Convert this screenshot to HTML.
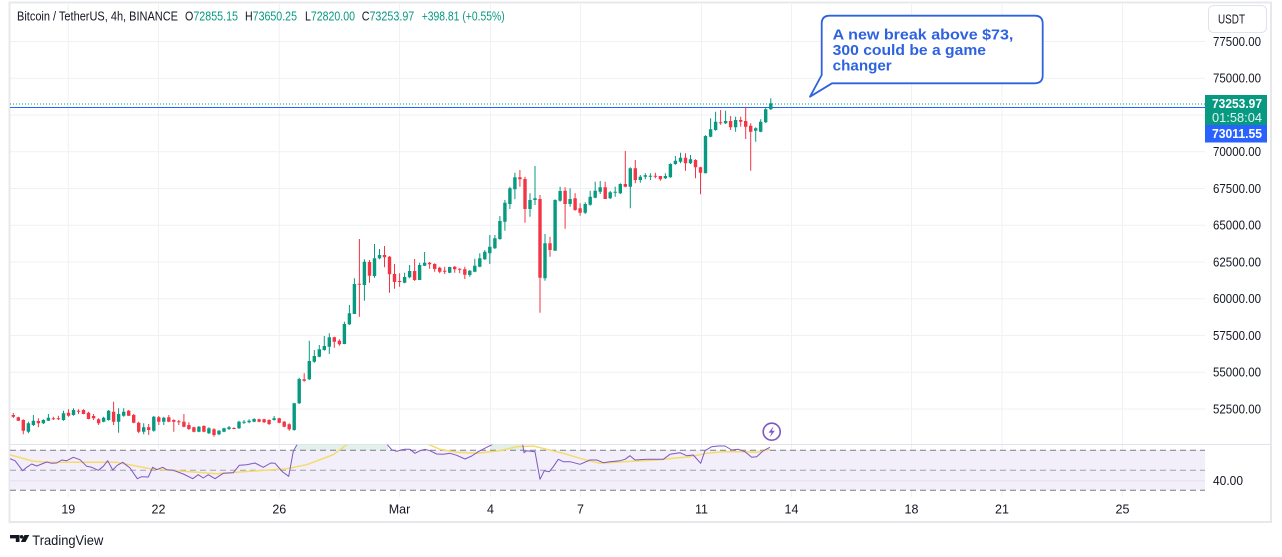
<!DOCTYPE html>
<html><head><meta charset="utf-8"><style>
html,body{margin:0;padding:0;background:#fff;}
svg{display:block;}
text{font-family:"Liberation Sans",sans-serif;}
</style></head><body>
<svg width="1282" height="557" viewBox="0 0 1282 557" xmlns="http://www.w3.org/2000/svg">
<rect x="0" y="0" width="1282" height="557" fill="#fff"/>
<defs>
<clipPath id="rsiclip"><rect x="10" y="444.8" width="1195" height="52"/></clipPath>
</defs>
<g stroke="#eff1f4" stroke-width="1">
<path d="M10 41.5H1205M10 78.3H1205M10 115H1205M10 151.8H1205M10 188.5H1205M10 225.3H1205M10 262H1205M10 298.8H1205M10 335.5H1205M10 372.3H1205M10 409H1205"/>
<path d="M68.3 4V497M158.5 4V497M279.3 4V497M399.5 4V497M490.5 4V497M580.5 4V497M701.5 4V497M791.5 4V497M911.5 4V497M1002 4V497M1122.5 4V497"/>
</g>
<rect x="9.5" y="2.5" width="1261.5" height="519.5" fill="none" stroke="#e6e8ec" stroke-width="2"/>
<text x="17" y="20.5" font-size="12.5" fill="#131722" textLength="161" lengthAdjust="spacingAndGlyphs">Bitcoin / TetherUS, 4h, BINANCE</text>
<text x="185" y="20.5" font-size="12.5" fill="#089981" textLength="53" lengthAdjust="spacingAndGlyphs"><tspan fill="#131722">O</tspan>72855.15</text>
<text x="245" y="20.5" font-size="12.5" fill="#089981" textLength="52" lengthAdjust="spacingAndGlyphs"><tspan fill="#131722">H</tspan>73650.25</text>
<text x="305" y="20.5" font-size="12.5" fill="#089981" textLength="50" lengthAdjust="spacingAndGlyphs"><tspan fill="#131722">L</tspan>72820.00</text>
<text x="361.7" y="20.5" font-size="12.5" fill="#089981" textLength="52.6" lengthAdjust="spacingAndGlyphs"><tspan fill="#131722">C</tspan>73253.97</text>
<text x="421.7" y="20.5" font-size="12.5" fill="#089981" textLength="83" lengthAdjust="spacingAndGlyphs">+398.81 (+0.55%)</text>
<rect x="1208.5" y="5.5" width="58" height="27" rx="5" fill="#fff" stroke="#e0e3eb"/>
<text x="1218" y="23.5" font-size="12.5" fill="#131722" textLength="27" lengthAdjust="spacingAndGlyphs">USDT</text>
<g font-size="12.5" fill="#131722">
<text x="1213" y="46" textLength="48" lengthAdjust="spacingAndGlyphs">77500.00</text>
<text x="1213" y="82.7" textLength="48" lengthAdjust="spacingAndGlyphs">75000.00</text>
<text x="1213" y="156.2" textLength="48" lengthAdjust="spacingAndGlyphs">70000.00</text>
<text x="1213" y="193" textLength="48" lengthAdjust="spacingAndGlyphs">67500.00</text>
<text x="1213" y="229.7" textLength="48" lengthAdjust="spacingAndGlyphs">65000.00</text>
<text x="1213" y="266.5" textLength="48" lengthAdjust="spacingAndGlyphs">62500.00</text>
<text x="1213" y="303.2" textLength="48" lengthAdjust="spacingAndGlyphs">60000.00</text>
<text x="1213" y="340" textLength="48" lengthAdjust="spacingAndGlyphs">57500.00</text>
<text x="1213" y="376.7" textLength="48" lengthAdjust="spacingAndGlyphs">55000.00</text>
<text x="1213" y="413.5" textLength="48" lengthAdjust="spacingAndGlyphs">52500.00</text>
<text x="1213" y="485.2" textLength="30" lengthAdjust="spacingAndGlyphs">40.00</text>
</g>
<g font-size="12.5" fill="#131722" text-anchor="middle">
<text x="68.3" y="513.5">19</text>
<text x="158.5" y="513.5">22</text>
<text x="279.3" y="513.5">26</text>
<text x="399.5" y="513.5">Mar</text>
<text x="490.5" y="513.5">4</text>
<text x="580.5" y="513.5">7</text>
<text x="701.5" y="513.5">11</text>
<text x="791.5" y="513.5">14</text>
<text x="911.5" y="513.5">18</text>
<text x="1002" y="513.5">21</text>
<text x="1122.5" y="513.5">25</text>
</g>
<line x1="10" y1="104" x2="1205" y2="104" stroke="#089981" stroke-width="1" stroke-dasharray="1 2"/>
<line x1="10" y1="107.5" x2="1205" y2="107.5" stroke="#2962ff" stroke-width="1"/>
<g fill="none">
<path stroke="#089981" stroke-width="1" d="M28.4 421.7V433.3M33.4 415V426M43.4 419.3V424M48.4 414V421M63.5 410.7V420.7M73.5 408.3V415.7M103.6 416.7V422.3M108.6 410V420.7M118.6 408.3V432.7M123.7 408.3V416.7M143.7 423.3V434.3M153.8 416V431.7M163.8 416.7V425M198.9 426V432.3M208.9 427.3V434M219 430V435.3M224 427.7V432.3M229 426V430M239 420.7V429M244 420V424M249.1 419.3V423.3M254.1 418.3V422.3M274.1 416V420.7M294.2 402.7V430.7M299.2 377.7V404M309.3 340.7V380M314.3 350V362.7M319.3 345V357.3M324.3 336V350.7M329.3 333.3V354M344.4 321.7V344.3M349.4 305V325M354.4 278.3V314M364.4 259.3V300.7M374.5 244V277.7M379.5 249V259.3M404.6 272.7V283.3M409.6 265V278.3M419.6 262.7V280M424.6 252V266M449.7 266.7V273.3M469.8 270V276.7M474.8 258.7V272.3M479.8 253.3V267.3M484.8 250V260M489.8 235V264M494.9 235V249M499.9 216V239.7M504.9 200V230.7M509.9 186.7V209M514.9 172.7V199.3M530 193.3V216.7M535 166V205M545 234V280.7M555.1 199.3V250.7M560.1 186.7V201.7M570.1 188.3V206.7M585.2 202.3V214M590.2 190.7V205.7M595.2 181.7V198.3M600.2 181V194M610.2 191V199M615.2 186.7V196.7M620.3 183.3V194M630.3 167.3V208.3M640.3 175V182.7M645.3 173.3V179.3M650.4 173.3V180M665.4 173.3V179M670.4 163.3V177.7M675.4 156V164.7M680.5 152.7V163.3M690.5 155V164M705.5 135.3V173.3M710.6 118.3V137.3M715.6 111.7V130.7M725.6 110.7V124M735.6 116.7V131.7M755.7 127.3V141.7M760.7 119.3V132.3M765.7 107.3V123M770.8 98.3V110"/>
<path stroke="#089981" stroke-width="3.4" d="M28.4 423.3V431.7M33.4 420.7V425M43.4 420V423.3M48.4 417.7V420.7M63.5 413.3V420M73.5 410V415M103.6 417.7V421.7M108.6 410.7V420M118.6 414V421.7M123.7 411.7V415.7M143.7 427.3V431.7M153.8 416.7V430.7M163.8 417.7V421.7M198.9 426.7V431.7M208.9 428.3V433.3M219 430.7V434.3M224 428.3V431.7M229 427.3V429M239 421.7V428.3M244 421.7V422.7M249.1 420.7V422.3M254.1 419V421.7M274.1 418.3V420M294.2 403.3V430M299.2 379V403.3M309.3 361V379.3M314.3 356V361.7M319.3 349.3V356.7M324.3 346V350M329.3 337.3V346.7M344.4 324V344M349.4 313.3V324.3M354.4 284V314M364.4 261.7V285M374.5 258.3V276M379.5 255V258.3M404.6 277V282.7M409.6 271V277.3M419.6 265V280M424.6 262.7V265.7M449.7 267V272.7M469.8 270.7V275M474.8 265.7V271.7M479.8 258.3V266.7M484.8 251.7V259.3M489.8 246.7V253.3M494.9 238.3V248.3M499.9 221V239M504.9 202.7V221.7M509.9 188.3V204M514.9 177.3V189.3M530 200V209M535 198.3V200M545 243.3V278.3M555.1 200V250.7M560.1 191V200.7M570.1 199V204M585.2 204V212.7M590.2 196.7V204.7M595.2 190.7V197.7M600.2 187.3V191.7M610.2 192.3V198.3M615.2 191.7V192.7M620.3 184V193.3M630.3 168.3V186.7M640.3 176.7V180M645.3 175.3V176.7M650.4 175.7V176.7M665.4 176V178.3M670.4 164V177.3M675.4 160.7V164M680.5 157.7V161.7M690.5 159.3V163.3M705.5 136V173.3M710.6 129.3V136.7M715.6 121.7V130M725.6 121V123.3M735.6 120V127.3M755.7 128.3V130.7M760.7 121.7V131.7M765.7 109.3V122.3M770.8 103.3V109.3"/>
<path stroke="#f23645" stroke-width="1" d="M13.3 413V418M18.3 416.7V421M23.3 419.3V434.3M38.4 418.3V427.3M53.4 416.7V420M58.4 415.7V420M68.5 409.3V416.7M78.5 409.3V414M83.5 409.3V414.3M88.5 411.7V419.3M93.6 414V420M98.6 418.3V425M113.6 401.7V425M128.7 410V416M133.7 414V423.3M138.7 421.7V433.3M148.7 424V435M158.8 416V425M168.8 415V422.3M173.8 419.3V431.7M178.8 420V425M183.9 414V427.3M188.9 422.3V430M193.9 426.7V432.3M203.9 425.3V432.3M214 428.3V436.7M234 427.3V429.3M259.1 418.7V422.3M264.1 418.7V423M269.1 419.3V425M279.2 417.7V423.3M284.2 421V427.3M289.2 423.3V430.7M304.2 373.3V381.7M334.3 336.7V347.7M339.4 339.3V345.7M359.4 239V316.7M369.5 260V282.7M384.5 246V267.3M389.5 256V292.7M394.5 264V288.7M399.6 273.3V286.7M414.6 259V281M429.6 262V268.7M434.7 263.3V271.7M439.7 266.7V273.3M444.7 266.7V274M454.7 266V272.7M459.7 268.3V273.3M464.8 266.7V279M519.9 170V186.7M525 176.7V222.7M540 195V312.7M550 236.7V256.7M565.1 187.3V228.7M575.1 193.3V210.7M580.1 203.3V215.7M605.2 181.7V199M625.3 151V187.3M635.3 160V183.3M655.4 172.7V178.3M660.4 176V180.7M685.5 153.3V170.7M695.5 159.3V178.3M700.5 166.7V194.3M720.6 110V124.7M730.6 116V130M740.7 116.7V126.7M745.7 106.7V139M750.7 123.3V170.7"/>
<path stroke="#f23645" stroke-width="3.4" d="M13.3 415V416.7M18.3 417.3V420.7M23.3 420V430.7M38.4 421V423.3M53.4 418.3V419.3M58.4 418.3V419.3M68.5 412.7V415.7M78.5 410.7V411.7M83.5 410V414M88.5 412.7V419M93.6 416V418.3M98.6 419.3V423.3M113.6 411.7V421.7M128.7 410.7V415.7M133.7 415V422.7M138.7 422.7V431.7M148.7 427.3V430M158.8 417.3V421.7M168.8 417.3V421.7M173.8 420V421.7M178.8 421.3V422.3M183.9 421.7V426.7M188.9 425V429M193.9 427.3V431.7M203.9 426V431.7M214 429.3V435M234 428V429M259.1 419.3V421.7M264.1 419.3V422.3M269.1 420V424M279.2 418.3V422.7M284.2 421.7V426.7M289.2 424.3V429.3M304.2 379.3V380.7M334.3 337.3V341.7M339.4 340.7V344.3M359.4 283.7V284.7M369.5 262V275.7M384.5 255V257.3M389.5 256.7V274.3M394.5 274V282M399.6 281V282M414.6 271V280M429.6 262.7V264.3M434.7 264V269M439.7 267.7V271.7M444.7 270.7V271.7M454.7 266.7V269.3M459.7 268.7V269.7M464.8 269.3V274.7M519.9 177.3V179.3M525 179V209M540 199V277.7M550 243.3V250M565.1 190.7V204M575.1 198.3V210M580.1 208.3V212.7M605.2 187.3V199M625.3 184V186.7M635.3 168.3V180M655.4 175.7V176.7M660.4 176V179.3M685.5 157.7V163.3M695.5 160V167.3M700.5 167.3V172.7M720.6 122.3V123.3M730.6 121V127.3M740.7 120V121.7M745.7 121V126.7M750.7 125.7V131.7"/>
</g>
<rect x="1205" y="95" width="62" height="30" fill="#089981"/>
<text x="1212" y="108" font-size="12.5" font-weight="bold" fill="#fff" textLength="50" lengthAdjust="spacingAndGlyphs">73253.97</text>
<text x="1212" y="122" font-size="12.5" fill="#e3f5f1" textLength="50" lengthAdjust="spacingAndGlyphs">01:58:04</text>
<rect x="1205" y="125" width="62" height="17.5" fill="#2962ff"/>
<text x="1212" y="138.2" font-size="12.5" font-weight="bold" fill="#fff" textLength="50" lengthAdjust="spacingAndGlyphs">73011.55</text>
<path d="M829.7 15.7H1034.7Q1042.7 15.7 1042.7 23.7V75.3Q1042.7 83.3 1034.7 83.3H832L810 96.7L821.7 75V23.7Q821.7 15.7 829.7 15.7Z" fill="#fff" stroke="#2e62e0" stroke-width="1.8" stroke-linejoin="round"/>
<g font-size="15" font-weight="bold" fill="#2e62e0">
<text x="832.7" y="39.5" textLength="180.7" lengthAdjust="spacingAndGlyphs">A new break above $73,</text>
<text x="832.7" y="55" textLength="153.3" lengthAdjust="spacingAndGlyphs">300 could be a game</text>
<text x="832.7" y="70.3" textLength="59" lengthAdjust="spacingAndGlyphs">changer</text>
</g>
<line x1="9" y1="444.5" x2="1271" y2="444.5" stroke="#e0e3eb" stroke-width="1"/>
<rect x="10" y="450" width="1195" height="40" fill="#f2eefa"/>
<rect x="296" y="445" width="92" height="5" fill="#e2f2ea"/>
<rect x="490" y="445" width="33" height="5" fill="#e2f2ea"/>
<line x1="10" y1="480.7" x2="1205" y2="480.7" stroke="#e3e1ec" stroke-width="1"/>
<g stroke-width="1" fill="none">
<line x1="10" y1="450.3" x2="1205" y2="450.3" stroke="#787b86" stroke-dasharray="6 4"/>
<line x1="10" y1="470.3" x2="1205" y2="470.3" stroke="#9ea1aa" stroke-dasharray="6 4"/>
<line x1="10" y1="490.3" x2="1205" y2="490.3" stroke="#787b86" stroke-dasharray="6 4"/>
</g>
<g clip-path="url(#rsiclip)" fill="none" stroke-linejoin="round">
<polyline stroke="#f5dc6a" stroke-width="1.5" points="10,454.7 33.3,461.3 50,462.3 83.3,462.3 116.7,462.3 150,468.7 183.3,471.3 216.7,473.7 250,471.3 273.3,469.7 286.7,468.7 306.7,464.7 333.3,454.7 346.7,444.7 360,438 410,438 428.3,444.3 440,449.3 456.7,452.3 476.7,453.3 500,450.7 516.7,446.7 533.3,446 546.7,449.3 563.3,453.3 583.3,459.3 600,463.3 623.3,461.7 656.7,460 673.3,458.3 690,456.7 706.7,453.3 723.3,451.7 740,451.7 756.7,452.3 770,449.3"/>
<polyline stroke="#7e57c2" stroke-width="1" points="10,458.7 15,460.7 22.7,470.7 26.7,467.3 31.7,464 36.7,466 41.7,464 46.7,462 51.7,463.3 56.7,463 61.7,460 66.7,460.7 73.3,457.3 80,459.7 86.7,466.3 91.7,467.3 98.3,470.3 103.3,466.3 107.7,460.7 112.7,470 117.3,465.3 122.7,462.3 130,468 137.3,478.7 141.7,476.7 148.3,477 152.7,467.3 156.7,469.7 162.7,467.3 166.7,469.7 173.3,470.3 183.3,474 192.7,478.7 198.3,474.7 203.3,478 208.3,474.7 215,478.7 223.3,473.3 233.3,472.7 239.3,465.3 246.7,464.7 255,463 263.3,467.3 270.7,463 275,463.3 282.7,472 288.7,476.3 293.3,451.3 297.3,444 297.5,438 386.5,438 386.7,444 391.7,449.7 396.7,451.3 400,450.3 405,449.3 410,449.3 415,453.3 420,450.7 425,449.3 430,450.7 436.7,454 443.3,454.3 450,453.3 456.7,455.3 465,459 471.7,456 478.3,451.7 486.7,447.3 493.3,444 493.5,438 522.5,438 522.7,444.3 524,452.7 526.7,450.7 535,451.7 540,479.3 544.3,470.7 549.3,471.7 553.3,466.7 558.3,459.3 563.3,461.7 570,461.7 580,464.3 590,460 596.7,460 603.3,462.7 610,461.7 620,460.7 625,459.3 630,455.7 635,460 646.7,459.3 663.3,459.3 670,454.3 680,452.7 686.7,455.7 693.3,455 700.7,463.3 705,450.7 711.7,446.7 718.3,446 725,446 731.7,450 738.3,449.3 745,451.7 751.7,457.3 756.7,456.7 763.3,450.7 770,447.3"/>
</g>
<circle cx="771.7" cy="431.7" r="8.5" fill="#fff" stroke="#7e57c2" stroke-width="1.6"/>
<path d="M773.6 426.3L768.6 432.6H771.6L769.8 437.3L774.8 430.8H771.8Z" fill="#7e57c2"/>
<g fill="#131722">
<path d="M10 535H19.5V542H15.8V538.4H10Z"/>
<circle cx="21.6" cy="536.8" r="1.8"/>
<path d="M24.5 535H29.3L25.5 542H20.8Z"/>
</g>
<text x="32.3" y="545" font-size="14" fill="#131722" textLength="71" lengthAdjust="spacingAndGlyphs">TradingView</text>
</svg>
</body></html>
